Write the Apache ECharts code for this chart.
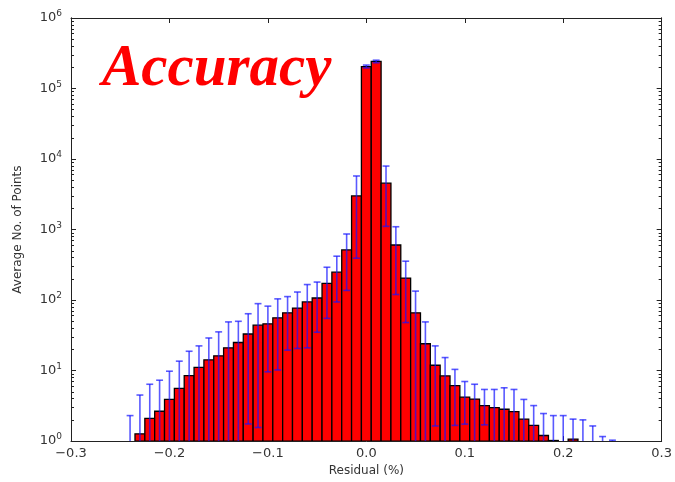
<!DOCTYPE html>
<html>
<head>
<meta charset="utf-8">
<script src="https://cdn.jsdelivr.net/npm/echarts@6/dist/echarts.min.js"></script>
<style>
  html, body { margin: 0; padding: 0; background: #fff; }
  #main { width: 675px; height: 482px; }
</style>
</head>
<body>
<div id="main"></div>
<script>
// bin centres (Residual, %), bin width 0.01
var binCenters = [
  -0.24, -0.23, -0.22, -0.21, -0.20, -0.19, -0.18, -0.17, -0.16, -0.15,
  -0.14, -0.13, -0.12, -0.11, -0.10, -0.09, -0.08, -0.07, -0.06, -0.05,
  -0.04, -0.03, -0.02, -0.01, 0.00, 0.01, 0.02, 0.03, 0.04, 0.05,
  0.06, 0.07, 0.08, 0.09, 0.10, 0.11, 0.12, 0.13, 0.14, 0.15,
  0.16, 0.17, 0.18, 0.19, 0.20, 0.21, 0.22, 0.23, 0.24, 0.25
];
// average no. of points per bin (null = no bar above 10^0)
var counts = [
  null, 1.27, 2.1, 2.65, 3.9, 5.6, 8.5, 11.1, 14.2, 16.2,
  21, 25, 33, 44, 46, 56, 66, 77, 94, 107,
  172, 249, 514, 3000, 205000, 242000, 4540, 604, 205, 66,
  24, 11.9, 8.4, 6.1, 4.2, 3.95, 3.19, 2.99, 2.83, 2.62,
  2.05, 1.67, 1.2, 1.02, null, 1.07, null, null, null, null
];
// error bar ends (null low = below 10^0)
var errHigh = [
  2.3, 4.5, 6.4, 7.3, 9.8, 13.6, 18.8, 22.4, 29, 35.4,
  49, 50, 64, 89, 82, 104, 112, 130, 166, 180,
  292, 419, 865, 5750, 215000, 252000, 7950, 1096, 356, 134,
  49, 22.4, 15.3, 10.4, 7.0, 6.4, 5.4, 5.4, 5.7, 5.4,
  3.9, 3.19, 2.46, 2.3, 2.3, 2.05, 2.0, 1.64, 1.16, 1.03
];
var errLow = [
  null, null, null, null, null, null, null, null, null, null,
  null, null, 1.75, 1.56, 9.6, 10.2, 19.5, 20.6, 21, 35,
  55, 94, 137, 392, 196000, 232000, 1110, 120, 48, null,
  null, 1.64, null, 1.67, 1.74, null, 1.7, null, null, null,
  null, null, null, null, null, null, null, null, null, null
];

var xTicks = [-0.3, -0.2, -0.1, 0.0, 0.1, 0.2, 0.3];
var yDecades = [1, 10, 100, 1000, 10000, 100000, 1000000];

var binWidth = 0.01;
var capHalf = 0.0035;
var yMin = 1;
var yMax = 1000000;

var yMinor = [];
for (var d = 0; d < yDecades.length - 1; d++) {
  for (var m = 2; m <= 9; m++) yMinor.push(m * yDecades[d]);
}

var barData = [];
var errData = [];
for (var i = 0; i < binCenters.length; i++) {
  if (counts[i] !== null) barData.push([binCenters[i], counts[i]]);
  errData.push([binCenters[i], errLow[i] === null ? '-' : errLow[i], errHigh[i]]);
}

var labelFont = 'DejaVu Sans';
var textColor = '#333';

var chartDom = document.getElementById('main');
var myChart = echarts.init(chartDom);

var renderBar = function (params, api) {
  var x = api.value(0);
  var v = api.value(1);
  var p0 = api.coord([x - binWidth / 2, v]);
  var p1 = api.coord([x + binWidth / 2, yMin]);
  return {
    type: 'rect',
    shape: { x: p0[0], y: p0[1], width: p1[0] - p0[0], height: p1[1] - p0[1] },
    style: { fill: '#ff0000', stroke: '#000', lineWidth: 1.3 }
  };
};

var renderErr = function (params, api) {
  var x = api.value(0);
  var lo = api.value(1);
  var hi = api.value(2);
  var hasLow = !isNaN(lo) && lo >= yMin;
  var top = api.coord([x, hi]);
  var bottom = api.coord([x, hasLow ? lo : yMin]);
  var capL = api.coord([x - capHalf, hi]);
  var capR = api.coord([x + capHalf, hi]);
  var style = { stroke: 'rgba(20, 20, 255, 0.7)', lineWidth: 1.6 };
  var children = [
    { type: 'line', shape: { x1: top[0], y1: top[1], x2: bottom[0], y2: bottom[1] }, style: style },
    { type: 'line', shape: { x1: capL[0], y1: top[1], x2: capR[0], y2: top[1] }, style: style }
  ];
  if (hasLow) {
    children.push({ type: 'line', shape: { x1: capL[0], y1: bottom[1], x2: capR[0], y2: bottom[1] }, style: style });
  }
  return { type: 'group', children: children };
};

var xLabel = function (v) {
  if (Math.abs(v) < 1e-9) return '0.0';
  return (v < 0 ? '\u2212' : '') + Math.abs(v).toFixed(1);
};

var yLabel = function (v) {
  return '10{sup|' + Math.round(Math.log10(v)) + '}';
};

var axisLineStyle = { show: true, onZero: false, lineStyle: { color: '#222', width: 1 } };

var logAxis = function (position, showLabel, ticks, tickLen) {
  return {
    type: 'log',
    logBase: 10,
    position: position,
    min: yMin,
    max: yMax,
    axisLine: axisLineStyle,
    splitLine: { show: false },
    axisTick: { inside: true, length: tickLen, customValues: ticks, lineStyle: { color: '#222' } },
    axisLabel: {
      show: showLabel,
      customValues: ticks,
      margin: 9,
      formatter: yLabel,
      color: textColor,
      fontFamily: labelFont,
      fontSize: 13,
      rich: {
        sup: { fontSize: 9, color: textColor, fontFamily: labelFont, padding: [0, 0, 8, 0] }
      }
    }
  };
};

var option = {
  animation: false,
  backgroundColor: '#fff',
  title: {
    text: 'Accuracy',
    left: 97,
    top: 35,
    textStyle: {
      color: '#ff0000',
      fontFamily: 'Liberation Serif',
      fontStyle: 'italic',
      fontWeight: 'bold',
      fontSize: 59
    }
  },
  grid: { left: 71, top: 18, right: 11, bottom: 39 },
  xAxis: [
    {
      type: 'value',
      position: 'bottom',
      min: -0.3,
      max: 0.3,
      interval: 0.1,
      name: 'Residual (%)',
      nameLocation: 'middle',
      nameGap: 21,
      nameTextStyle: { color: textColor, fontFamily: labelFont, fontSize: 12 },
      axisLine: axisLineStyle,
      splitLine: { show: false },
      axisTick: { inside: true, length: 5, lineStyle: { color: '#222' } },
      axisLabel: { margin: 6, formatter: xLabel, color: textColor, fontFamily: labelFont, fontSize: 13 }
    },
    {
      type: 'value',
      position: 'top',
      min: -0.3,
      max: 0.3,
      interval: 0.1,
      axisLine: axisLineStyle,
      splitLine: { show: false },
      axisTick: { inside: true, length: 5, lineStyle: { color: '#222' } },
      axisLabel: { show: false }
    }
  ],
  yAxis: [
    Object.assign(logAxis('left', true, yDecades, 5), {
      name: 'Average No. of Points',
      nameLocation: 'middle',
      nameGap: 47,
      nameTextStyle: { color: textColor, fontFamily: labelFont, fontSize: 12 }
    }),
    logAxis('left', false, yMinor, 3),
    logAxis('right', false, yDecades, 5),
    logAxis('right', false, yMinor, 3)
  ],
  series: [
    {
      type: 'custom',
      name: 'counts',
      xAxisIndex: 0,
      yAxisIndex: 0,
      clip: true,
      renderItem: renderBar,
      data: barData,
      z: 2
    },
    {
      type: 'custom',
      name: 'error',
      xAxisIndex: 0,
      yAxisIndex: 0,
      clip: true,
      renderItem: renderErr,
      data: errData,
      z: 3
    }
  ]
};

myChart.setOption(option);
</script>
</body>
</html>
